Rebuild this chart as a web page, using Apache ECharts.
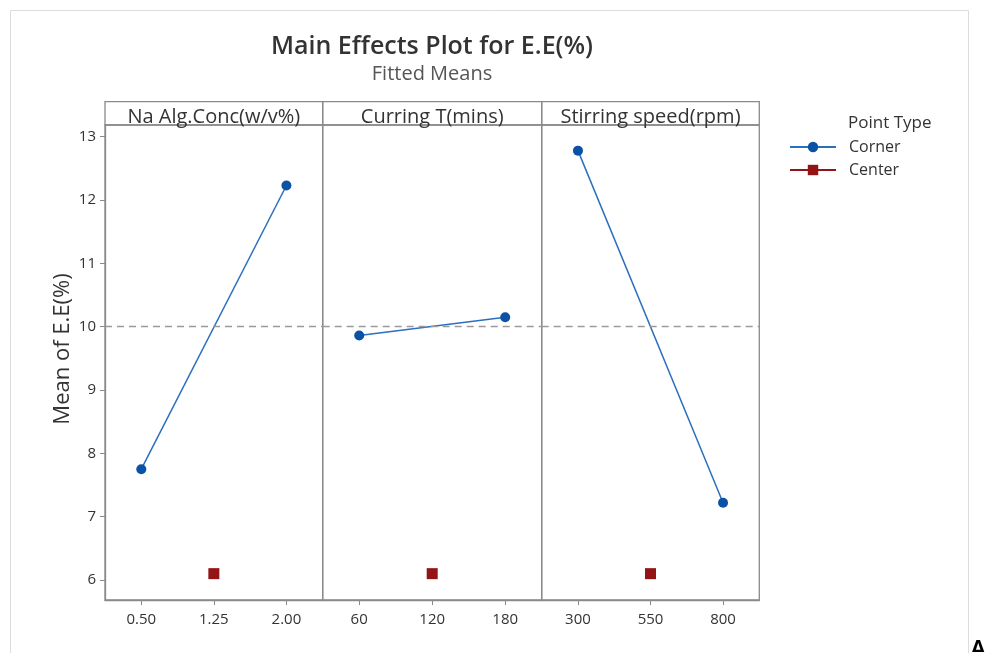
<!DOCTYPE html>
<html><head><meta charset="utf-8">
<script src="https://cdn.jsdelivr.net/npm/echarts@6/dist/echarts.min.js"></script>
<style>html,body{margin:0;padding:0;background:#fff}#c{width:989px;height:653px}</style>
</head><body><div id="c"></div>
<script>
// ---- data ----
const factorNames = ['Na Alg.Conc(w/v%)', 'Curring T(mins)', 'Stirring speed(rpm)'];
const levels1 = ['0.50', '1.25', '2.00'];
const levels2 = ['60', '120', '180'];
const levels3 = ['300', '550', '800'];
const corner1 = [['0.50', 7.75], ['2.00', 12.23]];
const corner2 = [['60', 9.86], ['180', 10.15]];
const corner3 = [['300', 12.78], ['800', 7.22]];
const center1 = [['1.25', 6.1]];
const center2 = [['120', 6.1]];
const center3 = [['550', 6.1]];
const overallMean = 10.0;
const yTicks = [6, 7, 8, 9, 10, 11, 12, 13];

// ---- layout ----
const FONT = 'Open Sans';
const panelLefts = [105, 322.7, 541.7];
const panelWidths = [217.7, 219, 217.6];
const plotTop = 125, headTop = 101.7, plotBottom = 600;
const yMin = 5.684, yMax = 13.185;
const levels = [levels1, levels2, levels3];
const corners = [corner1, corner2, corner3];
const centers = [center1, center2, center3];
const cornerColor = '#0a52a5', lineColor = '#2b6fbf', centerColor = '#931414', frameColor = '#8a8a8a';

const chart = echarts.init(document.getElementById('c'), null, {renderer: 'canvas'});
const grids = [], xAxes = [], yAxes = [], series = [], graphics = [];
for (let i = 0; i < 3; i++) {
  grids.push({left: panelLefts[i], width: panelWidths[i], top: plotTop, bottom: 653 - plotBottom,
    show: true, borderColor: frameColor, borderWidth: 1.3, backgroundColor: 'transparent'});
  xAxes.push({type: 'category', gridIndex: i, data: levels[i], boundaryGap: true,
    axisLine: {show: true, lineStyle: {color: frameColor, width: 1.3}},
    axisTick: {show: true, alignWithLabel: true, length: 5, lineStyle: {color: frameColor}},
    axisLabel: {color: '#333', fontSize: 15, fontFamily: FONT, margin: 12}, splitLine: {show: false}});
  yAxes.push({type: 'value', gridIndex: i, min: yMin, max: yMax,
    axisLine: {show: i === 0, lineStyle: {color: frameColor, width: 1.3}},
    axisTick: {show: i === 0, length: 5, customValues: yTicks, lineStyle: {color: frameColor}},
    axisLabel: {show: i === 0, customValues: yTicks, color: '#333', fontSize: 15, fontFamily: FONT, margin: 9},
    splitLine: {show: false}});
  series.push({name: 'Corner', type: 'line', xAxisIndex: i, yAxisIndex: i, data: corners[i],
    symbol: 'circle', symbolSize: 10, color: cornerColor,
    itemStyle: {color: cornerColor}, lineStyle: {color: lineColor, width: 1.5},
    markLine: {silent: true, symbol: 'none', label: {show: false},
      lineStyle: {color: '#9a9a9a', type: [7, 5], width: 1.3}, data: [{yAxis: overallMean}]},
    z: 3});
  series.push({name: 'Center', type: 'line', xAxisIndex: i, yAxisIndex: i, data: centers[i],
    symbol: 'rect', symbolSize: 11, color: centerColor,
    itemStyle: {color: centerColor}, lineStyle: {color: centerColor, width: 1.5}, z: 3});
  graphics.push({type: 'rect', shape: {x: panelLefts[i], y: headTop, width: panelWidths[i], height: plotTop - headTop},
    style: {fill: 'none', stroke: frameColor, lineWidth: 1.3}, z: 10});
  graphics.push({type: 'text', x: panelLefts[i] + panelWidths[i] / 2, y: 117,
    style: {text: factorNames[i], fill: '#333', font: '20px "' + FONT + '"', textAlign: 'center', textVerticalAlign: 'middle'}, z: 11});
}
// outer frame
graphics.push({type: 'rect', shape: {x: 10.5, y: 10.5, width: 958, height: 660},
  style: {fill: 'none', stroke: '#dcdcdc', lineWidth: 1}, z: 0});
graphics.push({type: 'text', x: 63, y: 349, rotation: Math.PI / 2,
  style: {text: 'Mean of E.E(%)', fill: '#333', font: '22px "' + FONT + '"', textAlign: 'center', textVerticalAlign: 'middle'}, z: 11});
graphics.push({type: 'text', x: 848, y: 123,
  style: {text: 'Point Type', fill: '#333', font: '17px "' + FONT + '"', textVerticalAlign: 'middle'}, z: 11});
graphics.push({type: 'text', x: 972, y: 640,
  style: {text: 'Δ', fill: '#000', font: 'bold 16px "DejaVu Sans"', textVerticalAlign: 'top'}, z: 11});

chart.setOption({
  animation: false,
  backgroundColor: '#fff',
  title: {text: 'Main Effects Plot for E.E(%)', subtext: 'Fitted Means', left: 427, top: 29, textAlign: 'center',
    textStyle: {color: '#333', fontSize: 25, fontWeight: 600, fontFamily: FONT},
    subtextStyle: {color: '#555', fontSize: 20, fontFamily: FONT}, itemGap: 5},
  legend: {data: ['Corner', 'Center'], orient: 'vertical', left: 784, top: 134, itemWidth: 46, itemHeight: 13, itemGap: 7,
    textStyle: {color: '#333', fontSize: 16, fontFamily: FONT, padding: [0, 0, 0, 8]}},
  grid: grids, xAxis: xAxes, yAxis: yAxes, series: series, graphic: graphics
});
</script></body></html>
